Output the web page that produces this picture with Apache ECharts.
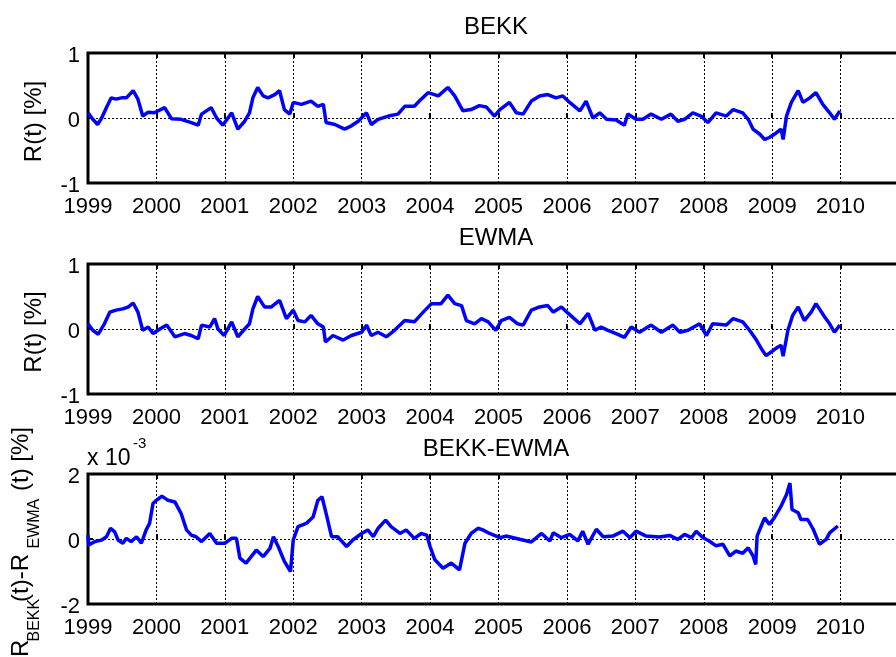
<!DOCTYPE html>
<html><head><meta charset="utf-8">
<script src="https://cdn.jsdelivr.net/npm/echarts@6/dist/echarts.min.js"></script>
<style>html,body{margin:0;padding:0;background:#fff;overflow:hidden}#c{width:896px;height:657px}</style>
</head><body><div id="c"></div><script>
// ---------- data ----------
const panelTitles = ['BEKK', 'EWMA', 'BEKK-EWMA'];
const xTickLabels = ['1999','2000','2001','2002','2003','2004','2005','2006','2007','2008','2009','2010'];
const yTicksR = [-1, 0, 1];
const yTicksDiff = [-2, 0, 2];   // shown in units of 10^-3

const bekkT = [1999.00,1999.07,1999.14,1999.20,1999.27,1999.34,1999.41,1999.49,1999.56,1999.66,1999.73,1999.80,1999.88,1999.97,
  2000.12,2000.22,2000.36,2000.51,2000.61,2000.66,2000.80,2000.88,2000.97,2001.10,2001.19,2001.29,2001.36,2001.41,2001.48,
  2001.56,2001.63,2001.73,2001.80,2001.87,2001.95,2002.00,2002.12,2002.26,2002.36,2002.44,2002.48,2002.61,2002.75,2002.85,
  2002.95,2003.07,2003.14,2003.24,2003.39,2003.53,2003.63,2003.77,2003.87,2003.97,2004.12,2004.26,2004.36,2004.48,2004.60,
  2004.72,2004.82,2004.94,2005.02,2005.16,2005.26,2005.36,2005.48,2005.60,2005.72,2005.84,2005.94,2006.04,2006.19,2006.28,
  2006.38,2006.48,2006.58,2006.72,2006.84,2006.89,2007.01,2007.11,2007.23,2007.38,2007.52,2007.62,2007.72,2007.84,2007.96,
  2008.06,2008.18,2008.33,2008.43,2008.57,2008.65,2008.72,2008.82,2008.89,2008.96,2009.06,2009.13,2009.16,2009.21,2009.28,
  2009.38,2009.45,2009.55,2009.64,2009.74,2009.84,2009.91,2009.99];
const bekkV = [0.08,-0.02,-0.10,0.00,0.16,0.31,0.29,0.31,0.31,0.42,0.29,0.03,0.09,0.08,
  0.16,-0.01,-0.02,-0.07,-0.11,0.06,0.16,0.00,-0.11,0.08,-0.17,-0.05,0.08,0.31,0.47,
  0.34,0.31,0.36,0.42,0.13,0.06,0.24,0.21,0.26,0.18,0.21,-0.07,-0.10,-0.17,-0.12,
  -0.05,0.08,-0.10,-0.02,0.03,0.06,0.18,0.18,0.29,0.39,0.34,0.47,0.34,0.11,0.13,
  0.19,0.17,0.03,0.13,0.24,0.08,0.06,0.26,0.34,0.36,0.31,0.34,0.24,0.11,0.26,
  0.00,0.08,-0.02,-0.03,-0.11,0.06,-0.02,-0.02,0.06,-0.02,0.06,-0.05,-0.02,0.08,0.03,
  -0.07,0.08,0.03,0.13,0.08,-0.02,-0.17,-0.25,-0.33,-0.30,-0.23,-0.17,-0.33,0.03,0.24,
  0.42,0.24,0.31,0.39,0.21,0.08,-0.02,0.11];

const ewmaT = [1999.00,1999.07,1999.15,1999.24,1999.32,1999.41,1999.51,1999.59,1999.66,1999.73,1999.80,1999.88,1999.95,
  2000.05,2000.15,2000.27,2000.41,2000.51,2000.61,2000.66,2000.78,2000.85,2000.90,2000.99,2001.10,2001.19,2001.29,2001.36,
  2001.41,2001.48,2001.58,2001.68,2001.80,2001.90,2002.00,2002.07,2002.17,2002.26,2002.36,2002.44,2002.47,2002.58,2002.73,
  2002.85,2003.00,2003.07,2003.14,2003.24,2003.36,2003.48,2003.63,2003.77,2003.90,2004.02,2004.16,2004.26,2004.36,2004.46,
  2004.53,2004.65,2004.75,2004.85,2004.96,2005.04,2005.16,2005.28,2005.36,2005.48,2005.60,2005.72,2005.80,2005.92,2006.02,
  2006.19,2006.31,2006.41,2006.50,2006.60,2006.72,2006.84,2006.94,2007.06,2007.23,2007.38,2007.55,2007.65,2007.77,2007.94,
  2008.04,2008.13,2008.33,2008.43,2008.57,2008.67,2008.77,2008.84,2008.91,2008.99,2009.08,2009.13,2009.16,2009.23,2009.30,
  2009.38,2009.47,2009.57,2009.64,2009.77,2009.84,2009.91,2009.99];
const ewmaV = [0.08,-0.02,-0.08,0.08,0.26,0.29,0.31,0.34,0.40,0.26,-0.02,0.03,-0.07,
  0.00,0.06,-0.12,-0.07,-0.10,-0.15,0.06,0.03,0.16,0.00,-0.10,0.11,-0.12,0.00,0.08,
  0.31,0.50,0.34,0.34,0.44,0.16,0.29,0.13,0.11,0.21,0.08,0.03,-0.20,-0.10,-0.17,
  -0.10,-0.05,0.06,-0.10,-0.05,-0.12,-0.02,0.13,0.11,0.26,0.39,0.39,0.52,0.39,0.36,
  0.13,0.08,0.16,0.11,-0.02,0.13,0.18,0.08,0.06,0.29,0.34,0.36,0.26,0.34,0.24,
  0.08,0.24,-0.02,0.03,-0.02,-0.07,-0.13,0.03,-0.05,0.06,-0.05,0.06,-0.05,-0.02,0.08,
  -0.10,0.08,0.06,0.16,0.11,-0.02,-0.17,-0.30,-0.41,-0.35,-0.28,-0.25,-0.42,-0.02,0.21,
  0.34,0.13,0.26,0.39,0.18,0.08,-0.05,0.06];

const diffT = [1999.00,1999.01,1999.10,1999.20,1999.27,1999.33,1999.39,1999.44,1999.51,1999.56,1999.63,1999.71,1999.78,
  1999.85,1999.90,1999.95,2000.00,2000.08,2000.17,2000.27,2000.36,2000.44,2000.51,2000.58,2000.66,2000.78,2000.88,2001.00,
  2001.10,2001.17,2001.22,2001.31,2001.46,2001.56,2001.66,2001.71,2001.78,2001.87,2001.96,2002.00,2002.07,2002.19,2002.29,
  2002.36,2002.42,2002.48,2002.56,2002.65,2002.78,2002.87,2003.00,2003.09,2003.17,2003.24,2003.35,2003.43,2003.56,2003.65,
  2003.77,2003.87,2003.95,2004.00,2004.07,2004.19,2004.31,2004.43,2004.51,2004.60,2004.70,2004.77,2004.87,2005.02,2005.11,
  2005.31,2005.48,2005.63,2005.75,2005.80,2005.92,2006.04,2006.16,2006.23,2006.31,2006.43,2006.53,2006.67,2006.82,2006.92,
  2007.01,2007.16,2007.35,2007.50,2007.62,2007.72,2007.82,2007.89,2007.99,2008.08,2008.18,2008.28,2008.38,2008.47,2008.57,
  2008.65,2008.72,2008.76,2008.78,2008.84,2008.89,2008.96,2009.03,2009.13,2009.21,2009.26,2009.29,2009.38,2009.42,2009.52,
  2009.60,2009.69,2009.79,2009.84,2009.96];
const diffV = [0.12,-0.18,-0.08,-0.03,0.07,0.33,0.22,-0.03,-0.13,0.02,-0.08,0.07,-0.13,
  0.28,0.48,1.09,1.19,1.32,1.19,1.14,0.79,0.28,0.12,0.07,-0.08,0.17,-0.13,-0.13,
  0.02,0.02,-0.59,-0.74,-0.34,-0.54,-0.29,0.07,-0.23,-0.69,-1.00,-0.03,0.38,0.48,0.68,
  1.19,1.30,0.79,0.07,0.07,-0.23,-0.03,0.17,0.28,0.07,0.33,0.58,0.38,0.17,0.28,
  0.02,0.17,0.12,-0.23,-0.64,-0.90,-0.74,-0.95,-0.13,0.17,0.33,0.28,0.17,0.04,0.09,
  -0.01,-0.09,0.17,-0.06,0.19,0.04,0.14,-0.06,0.24,-0.16,0.30,0.07,0.09,0.24,0.04,
  0.24,0.09,0.06,0.11,-0.01,0.14,0.04,0.24,0.04,-0.06,-0.21,-0.16,-0.52,-0.37,-0.44,
  -0.27,-0.52,-0.78,0.09,0.40,0.65,0.45,0.65,1.01,1.37,1.72,0.91,0.81,0.60,0.60,
  0.30,-0.16,-0.01,0.19,0.40];

// ---------- chart ----------
const FONT = '"Liberation Sans", Arial, Helvetica, sans-serif';
const gridTops = [53, 264, 474];
const seriesT = [bekkT, ewmaT, diffT];
const seriesV = [bekkV, ewmaV, diffV];
const yTickSets = [yTicksR, yTicksR, yTicksDiff];

const dotted = { color: '#000', width: 1, type: [2, 2] };
const tick = { show: true, inside: true, length: 5, lineStyle: { color: '#000', width: 2 } };

const grid = [], xAxis = [], yAxis = [], series = [];
for (let i = 0; i < 3; i++) {
  grid.push({ left: 88, top: gridTops[i], width: 821, height: 130, show: true,
              outerBoundsMode: 'none',
              borderColor: '#000', borderWidth: 3, backgroundColor: 'transparent', containLabel: false });
  xAxis.push({ type: 'value', gridIndex: i, min: 1999, max: 2011, interval: 1, position: 'bottom',
    axisLine: { show: false }, axisTick: tick,
    axisLabel: { show: true, interval: 0, margin: 13, color: '#000', fontSize: 22, fontFamily: FONT,
      hideOverlap: false,
      formatter: v => xTickLabels.indexOf(String(v)) >= 0 ? String(v) : '' },
    splitLine: { show: true, lineStyle: dotted } });
  xAxis.push({ type: 'value', gridIndex: i, min: 1999, max: 2011, interval: 1, position: 'top',
    axisLine: { show: false }, axisTick: tick, axisLabel: { show: false }, splitLine: { show: false } });
  const yt = yTickSets[i];
  yAxis.push({ type: 'value', gridIndex: i, min: yt[0], max: yt[yt.length - 1], interval: yt[1] - yt[0],
    axisLine: { show: false }, axisTick: tick,
    axisLabel: { show: true, margin: 8, color: '#000', fontSize: 22, fontFamily: FONT,
      verticalAlign: 'top', lineHeight: 6 },
    splitLine: { show: true, lineStyle: dotted } });
  series.push({ type: 'line', xAxisIndex: i * 2, yAxisIndex: i, showSymbol: false, symbol: 'none',
    lineStyle: { color: '#0000ff', width: 3.5 }, itemStyle: { color: '#0000ff' },
    data: seriesT[i].map((t, k) => [t, seriesV[i][k]]) });
}

function txt(text, x, y, size, opts) {
  opts = opts || {};
  return Object.assign({ type: 'text', x: x, y: y, silent: true, z: 100,
    style: { text: text, fill: '#000', fontSize: size, fontFamily: FONT,
      align: opts.align || 'center', verticalAlign: 'middle',
      textAlign: opts.align || 'center', textVerticalAlign: 'middle' } },
    opts.rot ? { rotation: opts.rot } : {});
}
const R90 = Math.PI / 2;
const graphic = [
  txt(panelTitles[0], 496, 27.5, 24),
  txt(panelTitles[1], 496, 238.5, 24),
  txt(panelTitles[2], 496, 449.5, 24),
  txt('R(t) [%]', 34.5, 121.5, 24, { rot: R90 }),
  txt('R(t) [%]', 34.5, 332, 24, { rot: R90 }),
  txt('R', 21.7, 657, 24, { rot: R90, align: 'left' }),
  txt('BEKK', 35, 641.5, 16, { rot: R90, align: 'left' }),
  txt('(t)-R', 21.7, 602, 24, { rot: R90, align: 'left' }),
  txt('EWMA', 35, 548.5, 16, { rot: R90, align: 'left' }),
  txt('(t) [%]', 21.7, 491, 24, { rot: R90, align: 'left' }),
  txt('x 10', 87, 458.5, 23, { align: 'left' }),
  txt('-3', 133, 443.5, 15, { align: 'left' })
];

const chart = echarts.init(document.getElementById('c'), null, { renderer: 'canvas' });
chart.setOption({ animation: false, backgroundColor: '#fff', grid, xAxis, yAxis, series, graphic });
</script></body></html>
